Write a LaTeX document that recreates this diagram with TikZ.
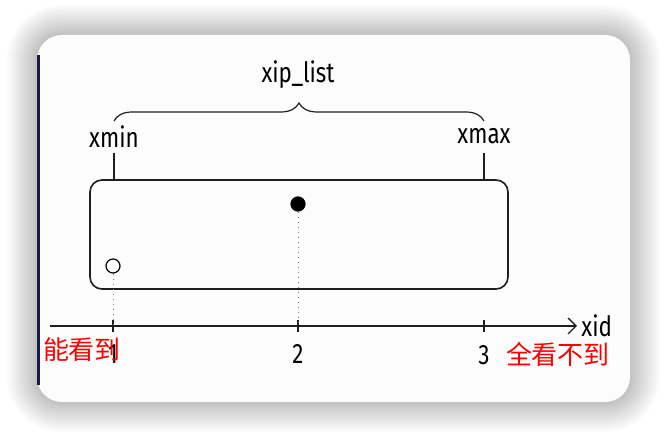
\documentclass[tikz,border=0pt]{standalone}
\usepackage{fontspec}
\setmainfont{Fira Sans}
\newfontfamily\narrowfont[FakeStretch=0.8]{Fira Sans}
\newfontfamily\cjkfont{Noto Sans CJK SC}
\usetikzlibrary{arrows.meta, positioning, decorations.pathreplacing}
\definecolor{CardBg}   {RGB}{252, 252, 252}
\definecolor{CardEdge} {RGB}{ 25,  25,  80}
\definecolor{LineDark} {RGB}{ 30,  30,  30}
\definecolor{NoteRed}  {RGB}{255,   0,   0}
\tikzset{
  % axis / box labels
  lbl/.style={
    font=\narrowfont\fontsize{14}{16}\selectfont, text=black, inner sep=1pt
  },
  % red remarks under the axis
  remark/.style={
    font=\cjkfont\fontsize{13}{15}\selectfont, text=NoteRed, inner sep=0pt
  },
  % xid value dots
  xiddot/.style={
    circle, draw=black, line width=0.6pt, minimum size=7pt, inner sep=0pt
  },
  % dotted drop line
  dropline/.style={
    dotted, line width=0.5pt, color=gray
  },
  % tick mark
  tickmark/.style={
    line width=0.6pt, color=LineDark
  }
}
\begin{document}
\begin{tikzpicture}[x=0.5pt, y=-0.5pt]
  \useasboundingbox (0,0) rectangle (666,438);
  \fill[white] (0,0) rectangle (666,438);

  % ── Card with soft shadow ───────────────────────────────────────────
  \foreach \s in {2,4,...,30}
    \fill[black, opacity=0.014, rounded corners=12.5pt+\s*0.5pt]
      (37-\s,35-\s) rectangle (630+\s,402+\s);
  \fill[CardBg, rounded corners=12.5pt] (37,35) rectangle (630,402);
  \draw[CardEdge, line width=1.5pt] (38.5,55) -- (38.5,385);

  % ── Range box ───────────────────────────────────────────────────────
  \draw[LineDark, line width=0.8pt, rounded corners=6pt]
    (90,180) rectangle (508,289);

  % ── Axis ────────────────────────────────────────────────────────────
  \coordinate (ax_start) at (50,326);
  \coordinate (ax_end)   at (577,326);
  \draw[-{Straight Barb[length=4pt]}, line width=0.7pt, LineDark]
    (ax_start) -- (ax_end);
  \node[lbl, right=1pt of ax_end] (xid) {xid};

  \coordinate (t1) at (113,326);
  \coordinate (t2) at (298,326);
  \coordinate (t3) at (484,326);
  \draw[tickmark] ([yshift=3pt]t1) -- ([yshift=-3pt]t1);
  \draw[tickmark] ([yshift=3pt]t2) -- ([yshift=-3pt]t2);
  \draw[tickmark] ([yshift=3pt]t3) -- ([yshift=-3pt]t3);

  \node[lbl] (n1) at (113,354) {1};
  \node[lbl] (n2) at (298,354) {2};
  \node[lbl] (n3) at (484,355) {3};

  % ── Bounds and brace ────────────────────────────────────────────────
  \coordinate (xmin_top) at (114,153);
  \coordinate (xmax_top) at (484,153);
  \draw[tickmark] (xmin_top) -- (114,180);
  \draw[tickmark] (xmax_top) -- (484,180);
  \node[lbl] (xmin) at (114,137) {xmin};
  \node[lbl] (xmax) at (484,136) {xmax};

  \coordinate (br_l) at (114,121);
  \coordinate (br_r) at (484,121);
  \draw[decorate, decoration={brace, amplitude=9pt}, line width=0.6pt, LineDark]
    (br_l) -- (br_r);
  \node[lbl] (xiplist) at (298,75) {xip\_list};

  % ── Xid points ──────────────────────────────────────────────────────
  \node[xiddot, fill=black] (dot_in) at (298,204) {};
  \node[xiddot, fill=white] (dot_min) at (113,266) {};
  \draw[dropline] (dot_in.south)  -- (t2);
  \draw[dropline] (dot_min.south) -- (t1);

  % ── Remarks ─────────────────────────────────────────────────────────
  \node[remark] (seen) at (82,350) {能看到};
  \node[remark] (unseen) at (558,355) {全看不到};

\end{tikzpicture}
\end{document}
